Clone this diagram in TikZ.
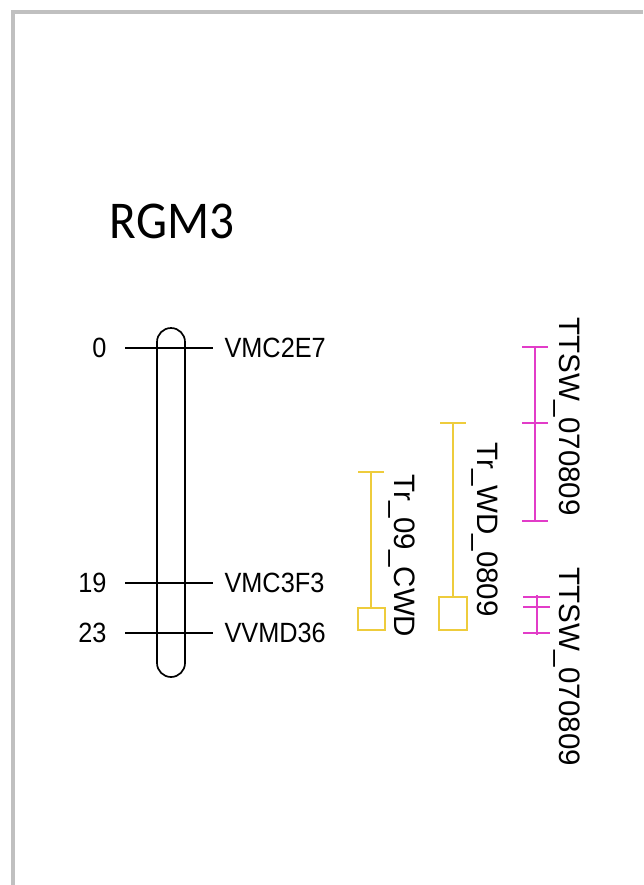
\documentclass[tikz,border=0pt]{standalone}
\usepackage{fontspec}
\setmainfont{Liberation Sans}
\newfontfamily\titlefont{Carlito}
\usepackage{xcolor}
\definecolor{qtlyellow}{RGB}{238,204,60}
\definecolor{qtlpink}{RGB}{226,60,200}
\definecolor{framegray}{RGB}{192,192,192}
\usetikzlibrary{positioning}

\tikzset{
  mkline/.style={black, line width=1.3pt},
  mklabel/.style={font=\fontsize{18}{18}\selectfont, inner sep=0pt, yscale=1.1},
  qtlrot/.style={font=\fontsize{21}{21}\selectfont, inner sep=0pt, rotate=-90, anchor=west},
  qtlyel/.style={qtlyellow, line width=1.2pt},
  qtlmag/.style={qtlpink, line width=1.2pt}
}

\begin{document}
\begin{tikzpicture}[x=0.25mm, y=-0.25mm]
  \useasboundingbox (0,0) rectangle (643,885);

  % frame -- only top and left edges show
  \draw[framegray, line width=3pt] (13,885) -- (13,12) -- (643,12);

  % title
  \node[font=\titlefont\fontsize{35}{35}\selectfont, inner sep=0pt, yscale=1.08] (title) at (172,221) {RGM3};

  % chromosome bar
  \draw[mkline, line width=1.2pt] (157,342) -- (157,663) arc (180:0:14) -- (185,342) arc (0:-180:14);

  % markers
  \coordinate (m0l) at (125,348);  \coordinate (m0r) at (213,348);
  \coordinate (m19l) at (125,583); \coordinate (m19r) at (213,583);
  \coordinate (m23l) at (125,633); \coordinate (m23r) at (213,633);
  \draw[mkline] (m0l) -- (m0r);
  \draw[mkline] (m19l) -- (m19r);
  \draw[mkline] (m23l) -- (m23r);
  \node[mklabel, anchor=east, left=13pt of m0l] (p0) {0};
  \node[mklabel, anchor=east, left=13pt of m19l] (p19) {19};
  \node[mklabel, anchor=east, left=13pt of m23l] (p23) {23};
  \node[mklabel, anchor=west, right=8pt of m0r] (VMC2E7) {VMC2E7};
  \node[mklabel, anchor=west, right=8pt of m19r] (VMC3F3) {VMC3F3};
  \node[mklabel, anchor=west, right=8pt of m23r] (VVMD36) {VVMD36};

  % QTL Tr_09_CWD
  \draw[qtlyel] (358,472) -- (384,472);
  \draw[qtlyel] (371,472) -- (371,608);
  \draw[qtlyel] (358,608) rectangle (385,630);
  \node[qtlrot] (cwd) at (402,474) {Tr\_09\_CWD};

  % QTL Tr_WD_0809
  \draw[qtlyel] (440,423) -- (466,423);
  \draw[qtlyel] (453,423) -- (453,597);
  \draw[qtlyel] (439,597) rectangle (467,630);
  \node[qtlrot] (wd) at (485,442) {Tr\_WD\_0809};

  % QTL TTSW_070809 (upper)
  \draw[qtlmag] (522,347) -- (548,347);
  \draw[qtlmag] (522,423) -- (548,423);
  \draw[qtlmag] (522,521) -- (548,521);
  \draw[qtlmag] (535,347) -- (535,521);
  \node[qtlrot] (ttsw1) at (567,317) {TTSW\_070809};

  % QTL TTSW_070809 (lower)
  \draw[qtlmag] (523,597) -- (550,597);
  \draw[qtlmag] (523,607) -- (550,607);
  \draw[qtlmag] (523,633) -- (550,633);
  \draw[qtlmag] (537,595) -- (537,635);
  \node[qtlrot] (ttsw2) at (567,567) {TTSW\_070809};
\end{tikzpicture}
\end{document}
